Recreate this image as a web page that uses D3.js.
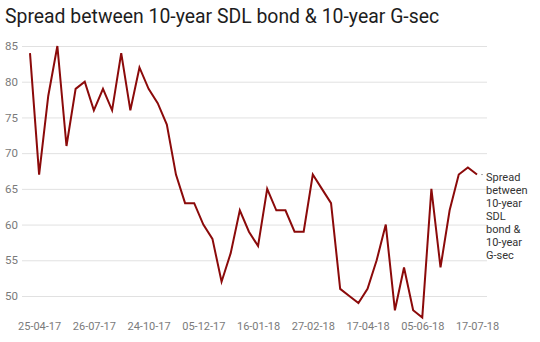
<!DOCTYPE html>
<html>
<head>
<meta charset="utf-8">
<script src="https://cdn.jsdelivr.net/npm/d3@7"></script>
<style>
  html, body { margin: 0; padding: 0; background: #fff; }
  body { width: 540px; height: 342px; overflow: hidden; font-family: Roboto, "Noto Sans", sans-serif; }
  svg { display: block; }
</style>
</head>
<body>
<svg id="chart" width="540" height="342"></svg>
<script>
// Spread (bps) between 10-year SDL and 10-year G-sec, one value per auction
const spread = [
  84, 67, 78, 85, 71, 79, 80, 76, 79, 76,
  84, 76, 82, 79, 77, 74, 67, 63, 63, 60,
  58, 52, 56, 62, 59, 57, 65, 62, 62, 59,
  59, 67, 65, 63, 51, 50, 49, 51, 55, 60,
  48, 54, 48, 47, 65, 54, 62, 67, 68, 67
];
// Date labels shown on the x axis and the observation they sit under
const tickIndex = [1, 7, 13, 19, 25, 31, 37, 43, 49];
const tickLabels = ["25-04-17", "26-07-17", "24-10-17", "05-12-17", "16-01-18",
                    "27-02-18", "17-04-18", "05-06-18", "17-07-18"];
const yTicks = [50, 55, 60, 65, 70, 75, 80, 85];
const seriesName = ["Spread", "between", "10-year", "SDL", "bond &", "10-year", "G-sec"];

const svg = d3.select("#chart");

svg.append("text")
  .attr("x", 5).attr("y", 23)
  .attr("font-size", 19.4)
  .attr("fill", "#1d1d1d")
  .text("Spread between 10-year SDL bond & 10-year G-sec");

const x = d3.scalePoint()
  .domain(d3.range(spread.length))
  .range([30, 477]);

const y = d3.scaleLinear()
  .domain([50, 85])
  .range([296, 46]);

// horizontal gridlines with value labels
const yAxis = d3.axisLeft(y)
  .tickValues(yTicks)
  .tickSize(-465)
  .tickPadding(4)
  .tickFormat(d3.format("d"));

const gy = svg.append("g")
  .attr("transform", "translate(22,0)")
  .call(yAxis);
gy.select(".domain").remove();
gy.selectAll(".tick line").attr("stroke", "#e1e1e1").attr("stroke-width", 1);
gy.selectAll(".tick text")
  .attr("fill", "#7a7a7a")
  .attr("font-size", 11.5)
  .attr("font-family", "Roboto, sans-serif");

// date labels along the bottom
const xAxis = d3.axisBottom(x)
  .tickValues(tickIndex)
  .tickSize(0)
  .tickPadding(0)
  .tickFormat((d, i) => tickLabels[i]);

const gx = svg.append("g")
  .attr("transform", "translate(0,322)")
  .call(xAxis);
gx.select(".domain").remove();
gx.selectAll(".tick text")
  .attr("fill", "#7a7a7a")
  .attr("font-size", 11)
  .attr("font-family", "Roboto, sans-serif")
  .attr("dy", "0.71em");

// the spread line
const line = d3.line()
  .x((d, i) => x(i))
  .y(d => y(d));

svg.append("path")
  .datum(spread)
  .attr("fill", "none")
  .attr("stroke", "#8b0a0a")
  .attr("stroke-width", 2)
  .attr("stroke-linejoin", "miter")
  .attr("d", line);

// series label at the line's end
const lastI = spread.length - 1;
const lastY = y(spread[lastI]);
svg.append("line")
  .attr("x1", x(lastI) + 4).attr("x2", x(lastI) + 6)
  .attr("y1", lastY).attr("y2", lastY)
  .attr("stroke", "#aaa").attr("stroke-width", 1);

svg.append("text")
  .attr("x", 486)
  .attr("y", lastY + 6)
  .attr("font-size", 11)
  .attr("fill", "#333")
  .selectAll("tspan")
  .data(seriesName)
  .join("tspan")
  .attr("x", 486)
  .attr("dy", (d, i) => i === 0 ? 0 : 13)
  .text(d => d);
</script>
</body>
</html>
